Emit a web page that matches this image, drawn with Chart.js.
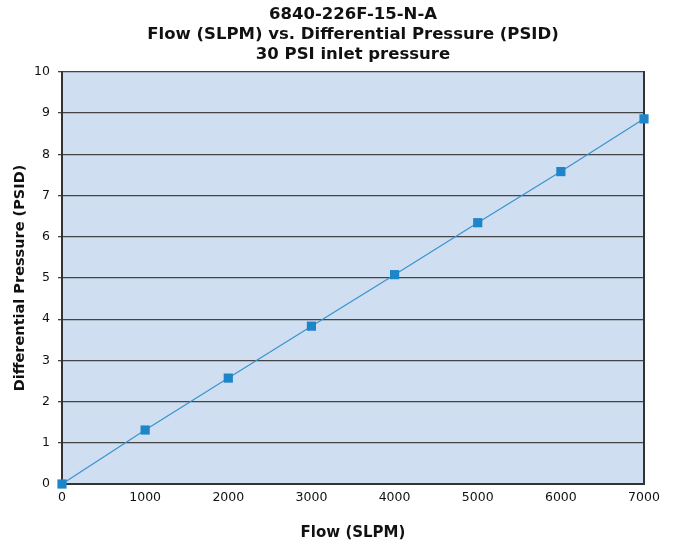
<!DOCTYPE html>
<html>
<head>
    <style>
        body { margin: 0; background: #fff; }
        #wrap { width: 675px; height: 542px; }
    </style>
    <script src="https://cdn.jsdelivr.net/npm/chart.js"></script>
    <title>Flow vs Differential Pressure</title>
</head>
<body>
    <div id="wrap"><canvas id="flow_chart" width="675" height="542"></canvas></div>
    <script>
        const flowSlpm = [0, 1000, 2000, 3000, 4000, 5000, 6000, 7000];
        const pressurePsid = [0, 1.31, 2.57, 3.83, 5.08, 6.34, 7.58, 8.86];
        const titleLines = ['6840-226F-15-N-A', 'Flow (SLPM) vs. Differential Pressure (PSID)', '30 PSI inlet pressure'];

        const fontFamily = "'DejaVu Sans', sans-serif";

        // fill the plot area light blue
        const areaFill = {
            id: 'areaFill',
            beforeDraw(chart) {
                const { ctx, chartArea: a } = chart;
                ctx.save();
                ctx.fillStyle = '#cfdef0';
                ctx.fillRect(a.left, a.top, a.right - a.left, a.bottom - a.top);
                ctx.restore();
            }
        };

        const ctx = document.getElementById('flow_chart').getContext('2d');
        new Chart(ctx, {
            type: 'scatter',
            data: {
                datasets: [{
                    data: flowSlpm.map((x, i) => ({ x: x, y: pressurePsid[i] })),
                    showLine: true,
                    borderColor: '#3a93d0',
                    borderWidth: 1.2,
                    backgroundColor: '#1e85c8',
                    pointBackgroundColor: '#1e85c8',
                    pointBorderWidth: 0,
                    pointStyle: 'rect',
                    pointRadius: 6.5,
                    clip: false
                }]
            },
            options: {
                responsive: false,
                animation: false,
                layout: { padding: { left: 10, right: 23, top: 4, bottom: 0 } },
                plugins: {
                    legend: { display: false },
                    tooltip: { enabled: false },
                    title: {
                        display: true,
                        fullSize: false,
                        text: titleLines,
                        color: '#111',
                        font: { family: fontFamily, size: 16.5, weight: 'bold', lineHeight: 1.24 },
                        padding: { top: 0, bottom: 6.5 }
                    }
                },
                scales: {
                    x: {
                        type: 'linear',
                        min: 0,
                        max: 7000,
                        ticks: {
                            stepSize: 1000, color: '#111', font: { family: fontFamily, size: 12.5 }, padding: 2,
                            callback: v => String(v)
                        },
                        grid: { display: false, drawTicks: true, tickLength: 4, color: '#333' },
                        border: { display: true, color: '#333', width: 2 },
                        title: {
                            display: true,
                            text: 'Flow (SLPM)',
                            color: '#111',
                            font: { family: fontFamily, size: 15, weight: 'bold' },
                            padding: { top: 17, bottom: 0 }
                        }
                    },
                    y: {
                        min: 0,
                        max: 10,
                        afterFit: s => { s.width = 52; },
                        ticks: { stepSize: 1, color: '#111', font: { family: fontFamily, size: 12.5 }, padding: 8 },
                        grid: { color: '#444', lineWidth: 1.3, tickLength: 4, drawTicks: true },
                        border: { display: true, color: '#333', width: 2 },
                        title: {
                            display: true,
                            text: 'Differential Pressure (PSID)',
                            color: '#111',
                            font: { family: fontFamily, size: 14.5, weight: 'bold' },
                            padding: { top: 2, bottom: 0 }
                        }
                    },
                    xRight: {
                        type: 'linear',
                        position: 'right',
                        display: true,
                        ticks: { display: false },
                        grid: { display: false },
                        border: { display: true, color: '#333', width: 2 }
                    }
                }
            },
            plugins: [areaFill]
        });
    </script>
</body>
</html>
